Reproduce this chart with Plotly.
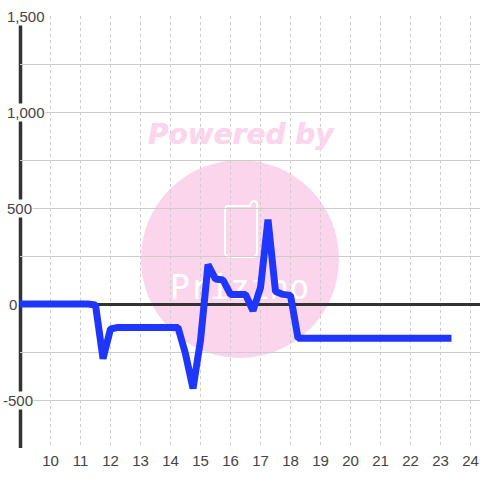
import plotly.graph_objects as go

hours = [9, 9.25, 9.5, 9.75, 10, 10.25, 10.5, 10.75, 11, 11.25, 11.5, 11.75, 12, 12.25, 12.5, 12.75, 13, 13.25, 13.5, 13.75, 14, 14.25, 14.5, 14.75, 15, 15.25, 15.5, 15.75, 16, 16.25, 16.5, 16.75, 17, 17.25, 17.5, 17.75, 18, 18.25, 18.5, 18.75, 19, 19.25, 19.5, 19.75, 20, 20.25, 20.5, 20.75, 21, 21.25, 21.5, 21.75, 22, 22.25, 22.5, 22.75, 23, 23.25]
values = [0, 0, 0, 0, 0, 0, 0, 0, 0, 0, -5, -285, -130, -122, -122, -122, -122, -122, -122, -122, -122, -122, -260, -440, -190, 205, 130, 125, 50, 50, 50, -35, 85, 440, 65, 50, 45, -178, -178, -178, -178, -178, -178, -178, -178, -178, -178, -178, -178, -178, -178, -178, -178, -178, -178, -178, -178, -178]
y_ticks = [1500, 1000, 500, 0, -500]
y_tick_labels = ["1,500", "1,000", "500", "0", "-500"]
label_left_px = [6, 6, 6, 8, 2]
x_ticks = list(range(10, 25))

px = lambda v: (v - 20) / 460
py = lambda v: (448 - v) / 432

fig = go.Figure()
fig.add_trace(go.Scatter(x=[16.3], y=[68], mode="text", text=["Prizino"], hoverinfo="skip",
                         textfont=dict(family="DejaVu Sans Mono", size=33, color="white"), textposition="middle center", cliponaxis=False))
fig.add_trace(go.Scatter(x=hours, y=values, mode="lines", line=dict(color="#1f36ff", width=7, simplify=False), hoverinfo="skip", cliponaxis=False))

shapes = [
    dict(type="circle", xref="paper", yref="paper", x0=px(141), x1=px(339), y0=py(358), y1=py(160),
         fillcolor="#fbd5ec", line_width=0, layer="below"),
    dict(type="path", xref="paper", yref="paper", layer="below",
         path=f"M {px(228)} {py(206)} L {px(250)} {py(206)} Q {px(251)} {py(201)} {px(254)} {py(201)} Q {px(257)} {py(201)} {px(257)} {py(205)} "
              f"L {px(257)} {py(252)} Q {px(257)} {py(257)} {px(252)} {py(257)} L {px(230)} {py(257)} Q {px(225)} {py(257)} {px(225)} {py(252)} "
              f"L {px(225)} {py(210)} Q {px(225)} {py(206)} {px(228)} {py(206)} Z",
         line=dict(color="white", width=2), fillcolor="rgba(0,0,0,0)"),
    dict(type="line", xref="paper", yref="paper", x0=px(20.5), x1=px(20.5), y0=0, y1=1, line=dict(color="#333333", width=3.5), layer="below"),
]

annotations = [
    dict(text="Powered by", xref="paper", yref="paper", x=px(241.5), y=py(134), xanchor="center", yanchor="middle", showarrow=False,
         font=dict(family="DejaVu Sans", size=28, color="#fbd5ec", weight="bold", style="italic", shadow="0 0 1px #fbd5ec")),
]
for t, lab, left in zip(y_ticks, y_tick_labels, label_left_px):
    annotations.append(dict(text=lab, xref="paper", yref="y", x=px(left), y=t, xanchor="left", yanchor="middle",
                            showarrow=False, bgcolor="white", font=dict(family="Liberation Sans", size=15, color="#444"),
                            borderpad=0))

fig.update_layout(
    width=480, height=480, autosize=False, paper_bgcolor="white", plot_bgcolor="rgba(0,0,0,0)",
    margin=dict(l=20, r=0, t=16, b=32), showlegend=False,
    shapes=shapes, annotations=annotations,
    xaxis=dict(range=[8.983, 24.317], tickvals=x_ticks, ticktext=[str(v) for v in x_ticks], ticks="", showline=False,
               showgrid=True, griddash="dot", gridcolor="#cccccc", gridwidth=1, zeroline=False, ticklabelstandoff=2,
               tickfont=dict(family="Liberation Sans", size=15, color="#444")),
    yaxis=dict(range=[-750, 1500], tickvals=[-750, -500, -250, 0, 250, 500, 750, 1000, 1250, 1500], showticklabels=False, ticks="",
               showgrid=True, gridcolor="#cccccc", gridwidth=1, zeroline=True, zerolinecolor="#333333", zerolinewidth=3,
               showline=False),
)
post = """document.body.style.margin='0';
document.querySelectorAll('.js-line').forEach(function(p){
  p.style.setProperty('stroke-linejoin','bevel');
  p.style.setProperty('stroke-linecap','square');
});"""
fig.write_html("out.html", post_script=post, config=dict(displayModeBar=False))
